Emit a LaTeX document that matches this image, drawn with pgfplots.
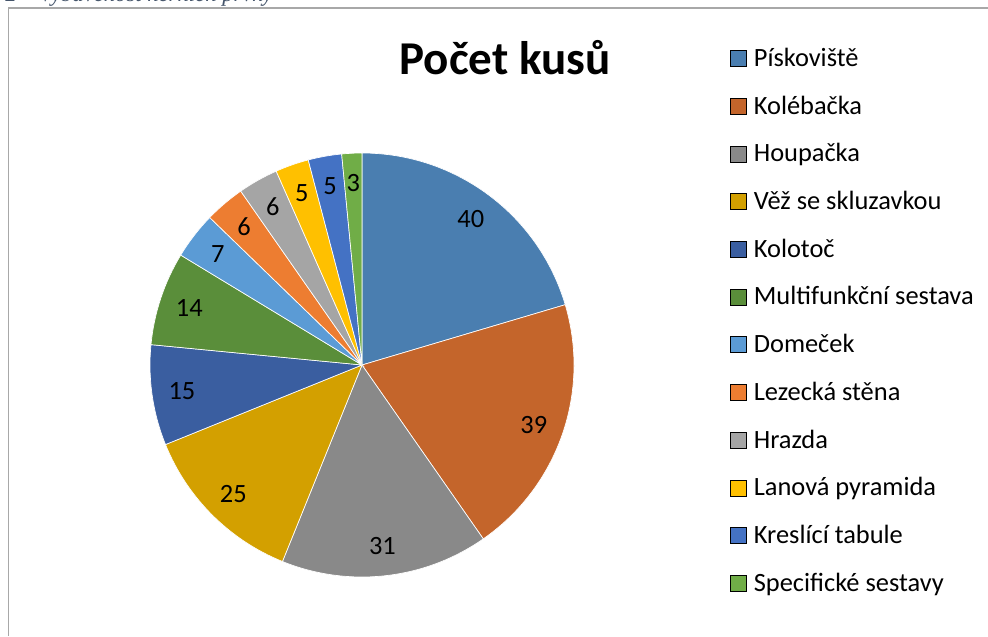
\documentclass[border=0pt]{standalone}
\usepackage{pgfplots}
\pgfplotsset{compat=1.18}
\usepackage{pgfplotstable}
\usepackage{fontspec}
\setmainfont{Carlito}
\newfontfamily\capfont{Liberation Serif}

\definecolor{c1}{HTML}{4A7EB0}
\definecolor{c2}{HTML}{C4652B}
\definecolor{c3}{HTML}{898989}
\definecolor{c4}{HTML}{D3A000}
\definecolor{c5}{HTML}{3A5EA0}
\definecolor{c6}{HTML}{5A8E3A}
\definecolor{c7}{HTML}{5B9BD5}
\definecolor{c8}{HTML}{ED7D31}
\definecolor{c9}{HTML}{A5A5A5}
\definecolor{c10}{HTML}{FFC000}
\definecolor{c11}{HTML}{4472C4}
\definecolor{c12}{HTML}{70AD47}
\definecolor{framegray}{HTML}{A8A8A8}
\definecolor{capblue}{HTML}{44546A}

\newcommand\lblfont{\fontsize{19.8}{23}\selectfont}

% pocet kusu, po smeru hodin od 12 h
\pgfplotstableread[col sep=comma]{
name,value,col
Pískoviště,40,c1
Kolébačka,39,c2
Houpačka,31,c3
Věž se skluzavkou,25,c4
Kolotoč,15,c5
Multifunkční sestava,14,c6
Domeček,7,c7
Lezecká stěna,6,c8
Hrazda,6,c9
Lanová pyramida,5,c10
Kreslící tabule,5,c11
Specifické sestavy,3,c12
}\piedata

\pgfplotsset{sq legend/.style={legend image code/.code={\fill[##1] (0pt,-4.5pt) rectangle (12pt,7.5pt);}}}

\begin{document}
\begin{tikzpicture}
\useasboundingbox (0,0) rectangle (741pt,477pt);
\begin{axis}[
    at={(0,0)}, anchor=south west,
    scale only axis,
    width=741pt, height=477pt,
    xmin=0, xmax=988, ymin=0, ymax=636,
    hide axis, clip=false,
    legend cell align=left,
    legend style={at={(0.7389,0.9234)}, anchor=north west,
        draw=none, fill=none, inner sep=0pt,
        row sep=18.8pt, column sep=5.25pt,
        font=\lblfont,
        nodes={inner sep=0pt, text height=13pt, text depth=4pt}},
]
% ramecek a popisek nahore
\draw[framegray, line width=1.1pt] (axis cs:8.5,0) -- (axis cs:8.5,628) -- (axis cs:988,628);
\node[anchor=base west, font=\capfont\itshape\fontsize{17}{20}\selectfont, text=capblue, inner sep=0pt]
    at (axis cs:5,634) {2 – Vybavenost herních prvky};
\node[anchor=base, font=\bfseries\fontsize{35.3}{40}\selectfont, inner sep=0pt]
    at (axis cs:505,561) {Počet kusů};

\pgfplotstablegetrowsof{\piedata}
\pgfmathtruncatemacro\nrows{\pgfplotsretval-1}
\def\total{0}
\pgfplotsforeachungrouped \i in {0,...,\nrows}{%
  \pgfplotstablegetelem{\i}{value}\of\piedata
  \pgfmathsetmacro\total{\total+\pgfplotsretval}
}
\def\astart{90}
\pgfplotsforeachungrouped \i in {0,...,\nrows}{%
  \pgfplotstablegetelem{\i}{value}\of\piedata \let\sliceval\pgfplotsretval
  \pgfplotstablegetelem{\i}{col}\of\piedata \let\slicecol\pgfplotsretval
  \pgfplotstablegetelem{\i}{name}\of\piedata \let\slicename\pgfplotsretval
  \pgfmathsetmacro\aend{\astart-360*\sliceval/\total}
  \pgfmathsetmacro\amid{(\astart+\aend)/2}
  \edef\temp{%
    \noexpand\fill[\slicecol, draw=white, line width=0.5pt] (axis cs:362,271) -- ++(\astart:159pt)
        arc[start angle=\astart, end angle=\aend, radius=159pt] -- cycle;
    \noexpand\path (axis cs:362,271) ++(\amid:136.5pt) node[font=\noexpand\lblfont] {\sliceval};
    \noexpand\addlegendimage{sq legend, fill=\slicecol}
    \noexpand\addlegendentry{\slicename}%
  }\temp
  \let\astart\aend
}
\end{axis}
\end{tikzpicture}
\end{document}
